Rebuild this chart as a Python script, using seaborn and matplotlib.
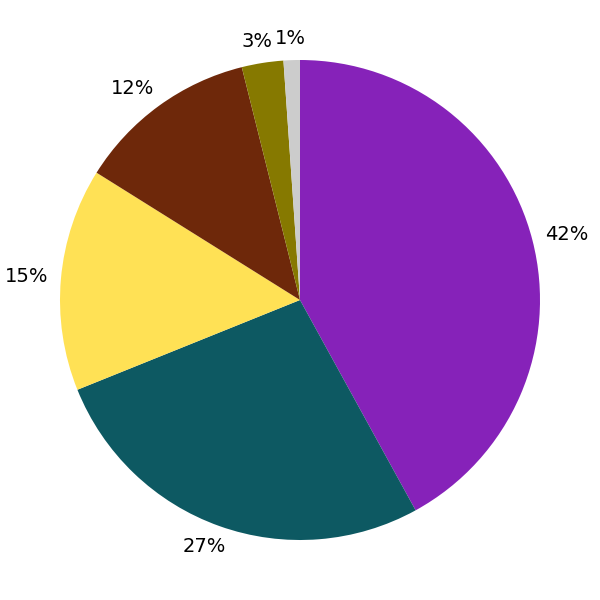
import numpy as np
import matplotlib
matplotlib.use("Agg")
import matplotlib.pyplot as plt
import seaborn as sns

# -------------------------------
# Data
# -------------------------------
categories = ["A", "B", "C", "D", "E", "F"]
shares = [42.0, 26.9, 15.0, 12.2, 2.8, 1.1]
colors = ["#8622b9", "#0d5962", "#ffe155", "#6e280a", "#867900", "#cccccc"]

sns.set_style("white")
plt.rcParams["font.family"] = ["DejaVu Sans"]

fig = plt.figure(figsize=(6, 6), dpi=100)
ax = fig.add_axes([0, 0, 1, 1])

wedges, _ = ax.pie(shares, colors=colors, startangle=90, counterclock=False,
                   radius=1, wedgeprops=dict(linewidth=0))
ax.set_xlim(-1.25, 1.25)
ax.set_ylim(-1.25, 1.25)
ax.set_aspect("equal")
ax.axis("off")

# -------------------------------
# Labels just outside the pie, box pushed out along the mid angle
# -------------------------------
texts = []
for w, v in zip(wedges, shares):
    texts.append(ax.text(0, 0, f"{v:.0f}%", fontsize=14, color="black",
                         ha="center", va="center"))

fig.canvas.draw()
renderer = fig.canvas.get_renderer()
px_per_unit = 240.0
r0 = 1.054
for w, t in zip(wedges, texts):
    mid = np.deg2rad((w.theta1 + w.theta2) / 2)
    ux, uy = np.cos(mid), np.sin(mid)
    bb = t.get_window_extent(renderer)
    hw = bb.width / 2 / px_per_unit
    hh = bb.height / 2 / px_per_unit
    x = r0 * ux + hw * np.clip(1.5 * ux, -1, 1)
    y = r0 * uy + 0.95 * hh * uy
    t.set_position((x, y))

fig.savefig("out.png", dpi=100)
